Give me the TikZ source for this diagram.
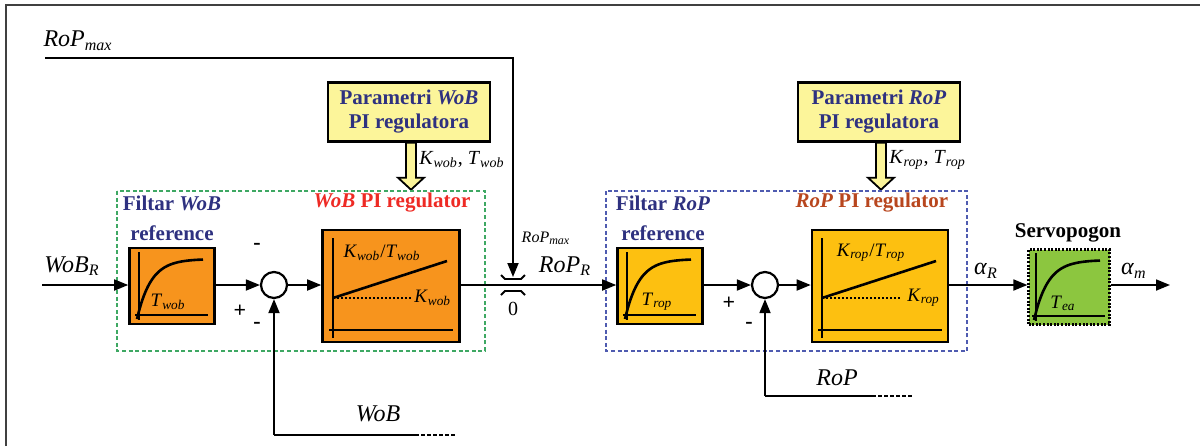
\documentclass[tikz,border=0pt]{standalone}
\usepackage{amsmath}
\usepackage{fontspec}
\setmainfont{Liberation Serif}
\usetikzlibrary{arrows.meta,positioning,calc}

\definecolor{wobfill}{HTML}{F7941D}
\definecolor{ropfill}{HTML}{FDC010}
\definecolor{servofill}{HTML}{8CC63F}
\definecolor{parfill}{HTML}{FCF59A}
\definecolor{navytxt}{HTML}{2E3180}
\definecolor{redtxt}{HTML}{EE2A24}
\definecolor{brntxt}{HTML}{B8461E}
\definecolor{wobframe}{HTML}{3EA863}
\definecolor{ropframe}{HTML}{4F5BB0}

\newcommand{\varsub}[2]{\textit{#1}\ensuremath{_{\textit{#2}}}}
% step response drawn inside a lag block
\newcommand{\lagplot}[3]{%
  \begin{scope}[shift={(#1.center)}]
    \draw[line width=0.6pt](-33,-34)--(-33,34);
    \draw[line width=0.6pt](-37,29)--(36,29);
    \draw[line width=1.3pt]plot[smooth,domain=0:66](\x-35,{33-60*(1-exp(-\x/14))});
    \node[innerlbl]at(#3,16){#2};
  \end{scope}}
% PI characteristic drawn inside a regulator block
\newcommand{\piplot}[4]{%
  \begin{scope}[shift={(#1.center)}]
    \draw[line width=0.6pt](-58,-48)--(-58,52);
    \draw[line width=0.6pt](-62,44)--(62,44);
    \draw[line width=0.6pt,dash pattern=on 1.2pt off 0.8pt](-58,12)--(20,12);
    \draw[line width=1.3pt](-58,12)--(56,-25);
    \node[innerlbl]at(-9,-33){#2};
    \node[innerlbl,anchor=west]at(#4,12){#3};
  \end{scope}}

\begin{document}
\begin{tikzpicture}[x=0.5pt,y=-0.5pt,
    sig/.style={line width=0.9pt,-{Triangle[length=7pt,width=5.5pt]}},
    blk/.style={draw,line width=1.3pt,inner sep=0pt},
    parbox/.style={draw,line width=1.2pt,fill=parfill,inner sep=0pt,align=center,
      minimum width=81pt,minimum height=29.5pt,text=navytxt,
      font=\fontsize{10.5}{12}\selectfont\bfseries},
    pararrow/.style={draw,line width=0.9pt,fill=parfill,line join=miter},
    sumnode/.style={circle,draw,line width=1.1pt,minimum size=13pt,inner sep=0pt},
    biglbl/.style={font=\fontsize{12}{14}\selectfont,inner sep=0pt},
    midlbl/.style={font=\fontsize{10}{12}\selectfont,inner sep=0pt},
    innerlbl/.style={font=\fontsize{9.5}{11}\selectfont,inner sep=0pt},
    smalllbl/.style={font=\fontsize{8}{10}\selectfont,inner sep=0pt},
    titletxt/.style={font=\fontsize{10.5}{15}\selectfont\bfseries,inner sep=0pt,align=center},
    signlbl/.style={font=\fontsize{11}{12}\selectfont\bfseries,inner sep=0pt},
    fbline/.style={line width=0.9pt},
    fbdash/.style={line width=0.9pt,dash pattern=on 2pt off 1pt}]
    \useasboundingbox(0,0)rectangle(1200,446);
    \draw[line width=1pt,black!75](6,446)--(6,5)--(1200,5);

    \node[biglbl](rmaxlbl)at(78,41){\varsub{RoP}{max}};
    \coordinate(rmaxin)at(45,58);

    \node[parbox](parwob)at(409,112){Parametri \textit{WoB}\\PI regulatora};
    \draw[pararrow]($(parwob.south)+(-3,0)$)--++(0,35)--++(-8,0)--++(13,12)--++(13,-12)--++(-8,0)--++(0,-35)--cycle;
    \node[midlbl,anchor=west](kwob)at(419,160){\varsub{K}{wob}, \varsub{T}{wob}};
    \node[parbox](parrop)at(879,112){Parametri \textit{RoP}\\PI regulatora};
    \draw[pararrow]($(parrop.south)+(-3,0)$)--++(0,35)--++(-8,0)--++(13,12)--++(13,-12)--++(-8,0)--++(0,-35)--cycle;
    \node[midlbl,anchor=west](krop)at(889,160){\varsub{K}{rop}, \varsub{T}{rop}};

    \draw[wobframe,line width=1.3pt,dash pattern=on 2pt off 1.3pt](117,191)rectangle(485,351);
    \draw[ropframe,line width=1.3pt,dash pattern=on 2pt off 1.3pt](606,191)rectangle(967,351);

    \node[titletxt,text=navytxt](wfilttxt)at(172,218){Filtar \textit{WoB}\\reference};
    \node[titletxt,text=redtxt](wpitxt)at(392,203){\textit{WoB} PI regulator};
    \node[titletxt,text=navytxt](rfilttxt)at(663,218){Filtar \textit{RoP}\\reference};
    \node[titletxt,text=brntxt](rpitxt)at(872,203){\textit{RoP} PI regulator};
    \node[titletxt](servotxt)at(1068,233){Servopogon};

    \node[blk,fill=wobfill,minimum width=42.5pt,minimum height=38pt](wfilt)at(172,286){};
    \node[sumnode](wsum)at(274,285){};
    \node[blk,fill=wobfill,minimum width=68.5pt,minimum height=56pt](wpi)at(391,286){};
    \node[blk,fill=ropfill,minimum width=42.5pt,minimum height=38pt](rfilt)at(660,286){};
    \node[sumnode](rsum)at(765,285){};
    \node[blk,fill=ropfill,minimum width=68pt,minimum height=56pt](rpi)at(880,286){};
    \node[draw,line width=1.1pt,dash pattern=on 1pt off 0.8pt,fill=servofill,inner sep=0pt,
      minimum width=40.5pt,minimum height=37.5pt](servo)at(1069,287){};

    \lagplot{wfilt}{\varsub{T}{wob}}{-4}
    \lagplot{rfilt}{\varsub{T}{rop}}{-3}
    \lagplot{servo}{\varsub{T}{ea}}{-6}
    \piplot{wpi}{\varsub{K}{wob}/\varsub{T}{wob}}{\varsub{K}{wob}}{23}
    \piplot{rpi}{\varsub{K}{rop}/\varsub{T}{rop}}{\varsub{K}{rop}}{27}

    \coordinate(win)at(42,285);
    \node[biglbl](wrlbl)at(72,266){\varsub{WoB}{R}};
    \draw[sig](win)--(wfilt.west|-win);
    \draw[sig](wfilt.east|-wsum)--(wsum);
    \draw[sig](wsum)--(wpi.west|-wsum);
    \node[signlbl](wplus)at(240,311){+};
    \node[signlbl](wminA)at(257,246){-};
    \node[signlbl](wminB)at(257,325){-};

    % saturation
    \coordinate(sat)at(513,285);
    \draw[line width=0.9pt]($(sat)+(-12,-10)$)--++(4,4)--++(16,0)--++(4,-4);
    \draw[line width=0.9pt]($(sat)+(-12,10)$)--++(4,-4)--++(16,0)--++(4,4);
    \coordinate(sattop)at(513,277);
    \draw[sig](rmaxin)-|(sattop);
    \node[midlbl](zero)at(513,309){0};
    \node[smalllbl](rmaxsm)at(546,238){\varsub{RoP}{max}};
    \node[biglbl](rrlbl)at(565,266){\varsub{RoP}{R}};
    \draw[sig](wpi.east|-wsum)--(rfilt.west|-wsum);

    \draw[sig](rfilt.east|-rsum)--(rsum);
    \draw[sig](rsum)--(rpi.west|-rsum);
    \node[signlbl](rplus)at(729,303){+};
    \node[signlbl](rmin)at(749,325){-};
    \draw[sig](rpi.east|-rsum)--(servo.west|-rsum);
    \node[biglbl](arlbl)at(986,271){\varsub{α}{R}};
    \coordinate(amout)at(1170,285);
    \draw[sig](servo.east|-amout)--(amout);
    \node[biglbl](amlbl)at(1134,271){\varsub{α}{m}};

    % feedback paths
    \coordinate(wfb)at(274,435);
    \coordinate(wfbend)at(415,435);
    \draw[sig](wfb)--(wsum);
    \draw[fbline](wfb)--(wfbend);
    \draw[fbdash](wfbend)--++(42,0);
    \node[biglbl](wfblbl)at(378,414){\textit{WoB}};
    \coordinate(rfb)at(765,396);
    \coordinate(rfbend)at(872,396);
    \draw[sig](rfb)--(rsum);
    \draw[fbline](rfb)--(rfbend);
    \draw[fbdash](rfbend)--++(42,0);
    \node[biglbl](rfblbl)at(837,378){\textit{RoP}};
\end{tikzpicture}
\end{document}
